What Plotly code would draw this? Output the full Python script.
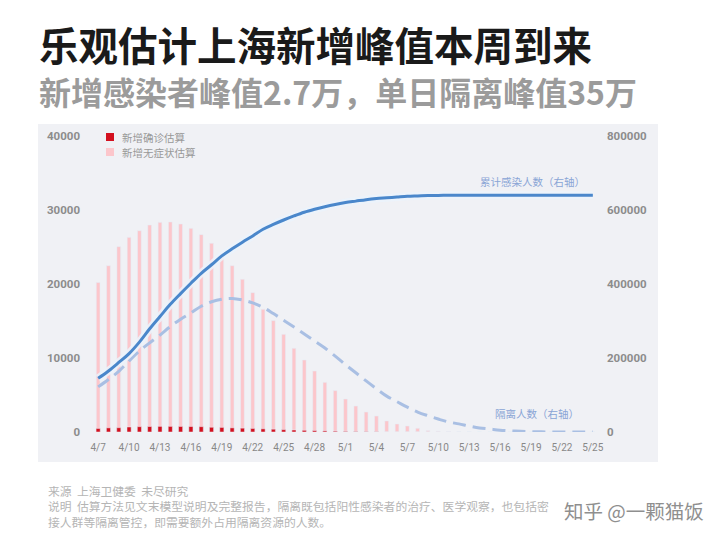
import plotly.graph_objects as go

dates = ["4/7","4/8","4/9","4/10","4/11","4/12","4/13","4/14","4/15","4/16","4/17","4/18","4/19","4/20",
         "4/21","4/22","4/23","4/24","4/25","4/26","4/27","4/28","4/29","4/30","5/1","5/2","5/3","5/4",
         "5/5","5/6","5/7","5/8","5/9","5/10","5/11","5/12","5/13","5/14","5/15","5/16","5/17","5/18",
         "5/19","5/20","5/21","5/22","5/23","5/24","5/25"]

confirmed = [480,560,580,680,720,740,760,760,750,740,720,640,620,560,520,480,430,380,320,270,230,190,
             150,110,80,60,40,25,0,0,0,0,0,0,0,0,0,0,0,0,0,0,0,0,0,0,0,0,0]

asymptomatic = [20200,22470,25040,26300,27200,27970,28330,28380,28100,27520,26670,25500,24140,22470,
                20630,18830,16580,15050,13200,11310,9730,8240,6710,5590,4460,3510,2700,2160,1490,1080,
                810,500,180,100,50,25,10,0,0,0,0,0,0,0,0,0,0,0,0]

cumulative = [145000,165000,188000,212000,243000,279000,312000,345000,374000,402000,429000,452000,
              476000,495000,513000,530000,548000,561000,573000,584000,594000,602000,609000,615000,
              620000,624000,628000,631000,633000,635000,637000,638000,639000,639500,640000,640000,
              640000,640000,640000,640000,640000,640000,640000,640000,640000,640000,640000,640000,640000]

isolation = [122000,142000,164000,192000,219000,241000,262000,285000,305000,322000,340000,352000,
             359000,361000,357000,349000,337000,320000,302000,284000,265000,246000,227000,205000,
             182000,160000,138000,117000,97000,82000,67000,54000,44000,35000,27000,22000,16000,
             11000,8000,5000,3000,2000,1000,500,0,0,0,0,0]

tick_dates = dates[::3]
left_ticks = [0, 10000, 20000, 30000, 40000]
right_ticks = [0, 200000, 400000, 600000, 800000]

title_text = "乐观估计上海新增峰值本周到来"
subtitle_text = "新增感染者峰值2.7万，单日隔离峰值35万"
legend_names = ["新增确诊估算", "新增无症状估算"]
legend_colors = ["#d3101f", "#fcc6cb"]
line_labels = ["累计感染人数（右轴）", "隔离人数（右轴）"]
footer_lines = ["来源  上海卫健委  未尽研究",
                "说明  估算方法见文末模型说明及完整报告，隔离既包括阳性感染者的治疗、医学观察，也包括密",
                "接人群等隔离管控，即需要额外占用隔离资源的人数。"]
watermark = "知乎 @一颗猫饭"

# page body has an 8px margin: figure pixel = window pixel - 8
OFF = 8
W, H = 720, 541
L = 93 - OFF
T = 136 - OFF
R = W - (598 - OFF)
B = H - (432 - OFF)
PW, PH = W - L - R, H - T - B

def rx(x):
    return (x - OFF - L) / PW

def ry(y):
    return (H - B - (y - OFF)) / PH

CJK = "Noto Sans CJK SC"

fig = go.Figure()
fig.add_trace(go.Bar(x=dates, y=asymptomatic, name=legend_names[1], marker_color=legend_colors[1],
                     width=0.36, yaxis="y", showlegend=False))
fig.add_trace(go.Bar(x=dates, y=confirmed, name=legend_names[0], marker_color=legend_colors[0],
                     width=0.40, yaxis="y", showlegend=False))
fig.add_trace(go.Scatter(x=dates, y=isolation, mode="lines", yaxis="y2", showlegend=False,
                         line=dict(color="#a9bfe3", width=3, dash="13px,7px", shape="spline")))
fig.add_trace(go.Scatter(x=dates, y=cumulative, mode="lines", yaxis="y2", showlegend=False,
                         line=dict(color="rgba(235,243,252,0.85)", width=8, shape="spline"),
                         hoverinfo="skip"))
fig.add_trace(go.Scatter(x=dates, y=cumulative, mode="lines", yaxis="y2", showlegend=False,
                         line=dict(color="#4a87cb", width=3, shape="spline")))

heading = (f"<span style='font-size:39.5px;color:#1a1a1a'>{title_text}</span><br>"
           f"<span style='font-size:32px;color:#9b9b9b'>{subtitle_text}</span>")

shapes = [dict(type="rect", xref="paper", yref="paper", x0=rx(38), x1=rx(658),
               y0=ry(462), y1=ry(124), fillcolor="#f0f1f5", line=dict(width=0), layer="below")]
annotations = [
    dict(text=heading, xref="paper", yref="paper", x=rx(37), y=ry(64), xanchor="left",
         yanchor="middle", align="left", showarrow=False,
         font=dict(size=33.5, color="#1a1a1a", family=CJK, weight="bold")),
    dict(text=line_labels[0], xref="paper", yref="paper", x=rx(587), y=ry(181), xanchor="right",
         yanchor="middle", showarrow=False, font=dict(size=10.5, color="#8aa5d6", family=CJK)),
    dict(text=line_labels[1], xref="paper", yref="paper", x=rx(581), y=ry(413), xanchor="right",
         yanchor="middle", showarrow=False, font=dict(size=10.5, color="#8aa5d6", family=CJK)),
    dict(text=watermark, xref="paper", yref="paper", x=rx(706), y=ry(510), xanchor="right",
         yanchor="middle", showarrow=False,
         font=dict(size=19.5, color="#8f8f8f", family=CJK)),
    dict(text="<br>".join(footer_lines), xref="paper", yref="paper", x=rx(46), y=ry(506),
         xanchor="left", yanchor="middle", align="left", showarrow=False,
         font=dict(size=11.8, color="#b5b5b5", family=CJK)),
]
for i, (name, col) in enumerate(zip(legend_names, legend_colors)):
    yc = 137 + 15 * i
    shapes.append(dict(type="rect", xref="paper", yref="paper", x0=rx(106), x1=rx(114),
                       y0=ry(yc + 4), y1=ry(yc - 4), fillcolor=col, line=dict(width=0)))
    annotations.append(dict(text=name, xref="paper", yref="paper", x=rx(120), y=ry(yc),
                            xanchor="left", yanchor="middle", showarrow=False,
                            font=dict(size=10.5, color="#999", family=CJK)))

fig.update_layout(
    width=W, height=H,
    margin=dict(l=L, r=R, t=T, b=B, pad=0),
    paper_bgcolor="white",
    plot_bgcolor="rgba(0,0,0,0)",
    barmode="overlay",
    font=dict(family=CJK, color="#888"),
    showlegend=False,
    xaxis=dict(type="category", range=[-0.5, len(dates) - 0.5], tickmode="array",
               tickvals=tick_dates, ticktext=tick_dates, showgrid=False, zeroline=False,
               showline=False, ticks="", ticklabelstandoff=8,
               tickfont=dict(size=10, color="#888", family="Roboto")),
    yaxis=dict(range=[0, 40000], tickvals=left_ticks, ticktext=[str(v) for v in left_ticks],
               showgrid=False, zeroline=False, showline=False, ticks="", ticklabelstandoff=12,
               tickfont=dict(size=11.5, color="#8c8c8c", family="Roboto", weight="bold")),
    yaxis2=dict(range=[0, 800000], tickvals=right_ticks, ticktext=[str(v) for v in right_ticks],
                overlaying="y", side="right", showgrid=False, zeroline=False, showline=False,
                ticks="", ticklabelstandoff=8,
                tickfont=dict(size=11.5, color="#8c8c8c", family="Roboto", weight="bold")),
    shapes=shapes,
    annotations=annotations,
)

fig.write_html("out.html")
